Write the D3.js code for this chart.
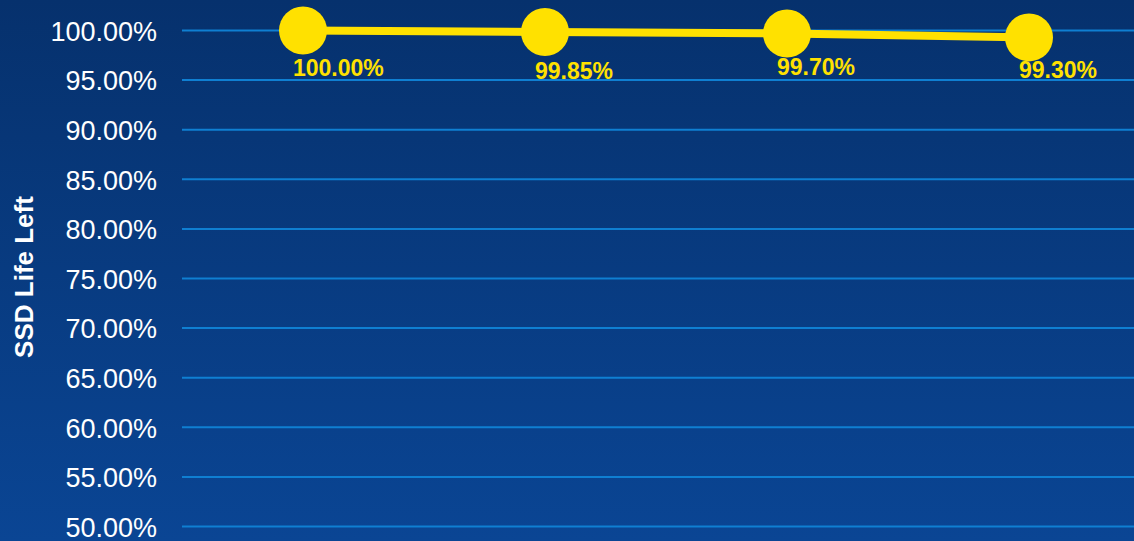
<!DOCTYPE html>
<html>
<head>
<meta charset="utf-8">
<script src="https://cdn.jsdelivr.net/npm/d3@7/dist/d3.min.js"></script>
<style>
  html, body { margin: 0; padding: 0; background: #07336f; }
  svg { display: block; }
</style>
</head>
<body>
<svg id="chart" width="1134" height="541"></svg>
<script>
// ---- data ----
const categories = ["T1", "T2", "T3", "T4"];
const lifeLeft = [100.00, 99.85, 99.70, 99.30];
const valueLabels = ["100.00%", "99.85%", "99.70%", "99.30%"];
const yTicks = [50, 55, 60, 65, 70, 75, 80, 85, 90, 95, 100];
const yTitle = "SSD Life Left";

// ---- layout ----
const W = 1134, H = 541;
const plot = { left: 182, right: 1134, top: 30.5, bottom: 526.5 };
const labelDy = [45, 47, 42, 41]; // label nudges below markers

const svg = d3.select("#chart");

const defs = svg.append("defs");
const grad = defs.append("linearGradient").attr("id", "bg")
  .attr("x1", 0).attr("y1", 0).attr("x2", 0).attr("y2", 1);
grad.append("stop").attr("offset", "0%").attr("stop-color", "#06316d");
grad.append("stop").attr("offset", "100%").attr("stop-color", "#0a4594");
svg.append("rect").attr("width", W).attr("height", H).attr("fill", "url(#bg)");

const x = d3.scalePoint().domain(categories)
  .range([303, 1029]);
const y = d3.scaleLinear().domain([50, 100]).range([plot.bottom, plot.top]);

// gridlines
svg.append("g").selectAll("line").data(yTicks).join("line")
  .attr("x1", plot.left).attr("x2", plot.right)
  .attr("y1", d => y(d)).attr("y2", d => y(d))
  .attr("stroke", "#0f7fd2").attr("stroke-width", 2);

// y axis labels
const yAxis = d3.axisLeft(y).tickValues(yTicks)
  .tickFormat(d => d.toFixed(2) + "%").tickSize(0).tickPadding(0);
const gy = svg.append("g").attr("transform", "translate(157,0)").call(yAxis);
gy.select(".domain").remove();
gy.selectAll("text")
  .attr("fill", "#ffffff")
  .style("font-family", "Liberation Sans, Arial, sans-serif")
  .style("font-size", "27px")
  .attr("dy", "0.36em");

// y title
svg.append("text")
  .attr("transform", "translate(33,277) rotate(-90)")
  .attr("text-anchor", "middle")
  .attr("fill", "#ffffff")
  .style("font-family", "Liberation Sans, Arial, sans-serif")
  .style("font-size", "26px")
  .style("font-weight", "bold")
  .text(yTitle);

// line
const line = d3.line().x((d, i) => x(categories[i])).y(d => y(d));
svg.append("path").datum(lifeLeft)
  .attr("d", line)
  .attr("fill", "none")
  .attr("stroke", "#ffe100")
  .attr("stroke-width", 8);

// markers
svg.append("g").selectAll("circle").data(lifeLeft).join("circle")
  .attr("cx", (d, i) => x(categories[i]))
  .attr("cy", d => y(d))
  .attr("r", 24)
  .attr("fill", "#ffe100");

// data labels
svg.append("g").selectAll("text").data(lifeLeft).join("text")
  .attr("x", (d, i) => x(categories[i]) - 10)
  .attr("y", (d, i) => y(d) + labelDy[i])
  .attr("fill", "#ffe100")
  .style("font-family", "Liberation Sans, Arial, sans-serif")
  .style("font-size", "23px")
  .style("font-weight", "bold")
  .text((d, i) => valueLabels[i]);
</script>
</body>
</html>
